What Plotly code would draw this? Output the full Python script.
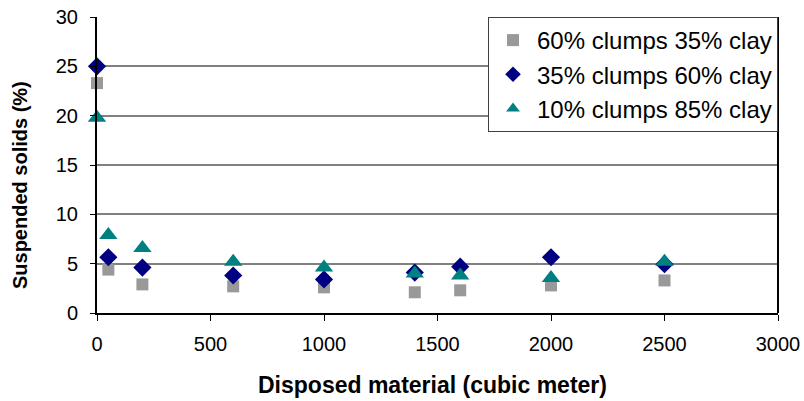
import plotly.graph_objects as go

# Disposed material volume (cubic meter)
disposed = [0, 50, 200, 600, 1000, 1400, 1600, 2000, 2500]

# Suspended solids (%) for each mixture
clumps60_clay35 = [23.3, 4.4, 2.9, 2.7, 2.6, 2.1, 2.3, 2.8, 3.3]
clumps35_clay60 = [25.0, 5.65, 4.6, 3.8, 3.4, 4.1, 4.7, 5.65, 4.95]
clumps10_clay85 = [19.8, 7.9, 6.6, 5.2, 4.6, 4.0, 3.8, 3.55, 5.2]

x_ticks = [0, 500, 1000, 1500, 2000, 2500, 3000]
y_ticks = [0, 5, 10, 15, 20, 25, 30]

fig = go.Figure()
fig.add_trace(go.Scatter(
    x=disposed, y=clumps60_clay35, mode="markers", name="60% clumps 35% clay",
    marker=dict(symbol="square", size=12, color="#999999"), cliponaxis=False,
))
fig.add_trace(go.Scatter(
    x=disposed, y=clumps35_clay60, mode="markers", name="35% clumps 60% clay",
    marker=dict(symbol="diamond", size=14, color="#000080"), cliponaxis=False,
))
fig.add_trace(go.Scatter(
    x=disposed, y=clumps10_clay85, mode="markers", name="10% clumps 85% clay",
    marker=dict(symbol="triangle-up", size=16, color="#008080"), cliponaxis=False,
))

font_family = "Liberation Sans, Arial, sans-serif"

fig.update_layout(
    width=804, height=401,
    margin=dict(l=97, r=26, t=17, b=88, autoexpand=False),
    paper_bgcolor="white", plot_bgcolor="white",
    font=dict(family=font_family, size=20, color="black"),
    showlegend=True,
    legend=dict(
        x=1, y=1, xanchor="right", yanchor="top",
        bgcolor="white", bordercolor="#404040", borderwidth=1,
        font=dict(size=24), itemsizing="constant", itemwidth=38,
        tracegroupgap=0,
    ),
    xaxis=dict(
        range=[0, 3000], tickvals=x_ticks, ticktext=[str(v) for v in x_ticks],
        showgrid=False, zeroline=False, automargin=False,
        showline=True, linecolor="black", linewidth=2, mirror=False,
        ticks="outside", ticklen=6, tickwidth=1, tickcolor="black",
        tickfont=dict(size=20), ticklabelstandoff=6,
    ),
    yaxis=dict(
        range=[0, 30], tickvals=y_ticks, ticktext=[str(v) for v in y_ticks],
        showgrid=True, gridcolor="#808080", gridwidth=1.5, zeroline=False,
        automargin=False,
        showline=True, linecolor="black", linewidth=2,
        ticks="outside", ticklen=5, tickwidth=1, tickcolor="black",
        tickfont=dict(size=20), ticklabelstandoff=8,
    ),
)

# Axis titles
fig.add_annotation(
    text="<b>Disposed material (cubic meter)</b>", xref="paper", yref="paper",
    x=0.5 * (258 + 608) / 681 - 97 / 681, y=-0.243, xanchor="center", yanchor="middle",
    showarrow=False, font=dict(size=23),
)
fig.add_annotation(
    text="<b>Suspended solids (%)</b>", xref="paper", yref="paper",
    x=-0.113, y=0.5 * ((313 - 85) + (313 - 285)) / 296, xanchor="center", yanchor="middle",
    textangle=-90, showarrow=False, font=dict(size=20),
)

# Right-hand frame edge of the plot area
fig.add_shape(type="line", xref="paper", yref="paper", x0=1, x1=1, y0=0, y1=1,
              line=dict(color="black", width=2))

fig.write_html("out.html")
